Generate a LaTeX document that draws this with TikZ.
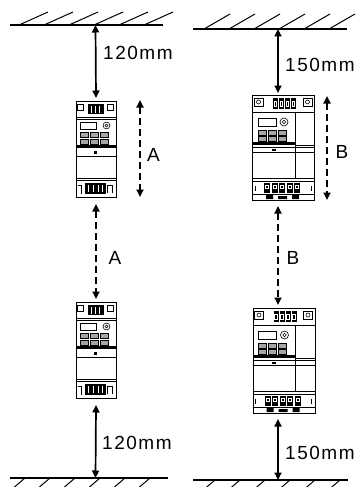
\documentclass[tikz,border=0pt]{standalone}
\usepackage{fontspec}
\setmainfont[LetterSpace=8]{Liberation Sans}
\usetikzlibrary{arrows.meta}
\tikzset{
 wall/.style={line width=1.5pt},
 hatch/.style={line width=1pt},
 dim/.style={line width=1.7pt, {Triangle[length=7.5pt,width=7pt]}-{Triangle[length=7.5pt,width=7pt]}},
 dimdash/.style={dim, dash pattern=on 7pt off 4pt},
 lab/.style={font=\fontsize{19}{19}\selectfont, inner sep=0pt},
 devbox/.style={draw, line width=1pt, inner sep=0pt, anchor=north west},
 fine/.style={line width=0.6pt},
 stripe/.style={white, line width=0.7pt},
}
\newcommand\smalldetail[1]{%
 \begin{scope}[shift={(#1.north west)}]
  \draw[fine] (0,16) -- (40,16) (0,18) -- (40,18);
  \draw[fine] (2,3) rectangle (8,9) (32,3) rectangle (38,9);
  \fill (12,3) rectangle (28,13);
  \draw[stripe] (16,5) -- (16,12) (20,5) -- (20,12) (24,5) -- (24,12);
  \draw[fine] (5,21) rectangle (21,28);
  \draw[fine] (31,24.5) circle (3.5) (31,24.5) circle (1.5);
  \foreach \cx in {5,15,25}{\foreach \ry in {31,38}{
    \draw[fine,fill=black!35] (\cx,\ry) rectangle +(8,5);}}
  \fill (0,44) rectangle (40,46.5);
  \fill (18.5,50) rectangle (21.5,52.5);
  \draw[fine] (0,55) -- (40,55);
  \draw[fine] (0,77) -- (40,77) (0,79) -- (40,79);
  \fill (9,82) rectangle (30,93);
  \draw[stripe] (13,84) -- (13,91) (18,84) -- (18,91) (23,84) -- (23,91) (27,84) -- (27,91);
  \draw[fine] (32,92) -- (32,84) -- (37,84) -- (37,92);
  \draw[fine] (2,84) -- (6,84) -- (6,93);
 \end{scope}}
\newcommand\bigdetail[1]{%
 \begin{scope}[shift={(#1.north west)}]
  \draw[fine] (0,17) -- (62,17);
  \draw[fine] (2,3) rectangle (11,11) (51,3) rectangle (60,11);
  \draw[fine] (6.5,7) circle (2) (55.5,7) circle (2);
  \foreach \i in {0,1,2,3}{\fill (21+\i*6,3) rectangle +(5,11);
    \draw[stripe] (22.2+\i*6,6) rectangle +(2.6,5);}
  \draw[fine] (43,17) -- (43,83);
  \draw[fine] (6,23) rectangle (24,31);
  \draw[fine] (32,27) circle (4) (32,27) circle (1.8);
  \foreach \cx in {6,16,26}{\foreach \ry in {35,41}{
    \draw[fine,fill=black!35] (\cx,\ry) rectangle +(8,5);}}
  \fill (0,47) rectangle (43,49.5);
  \draw[fine] (43,50) -- (62,50);
  \draw[fine] (0,52.5) -- (62,52.5);
  \fill (19.5,53.5) rectangle (23.5,56);
  \draw[fine] (0,57.5) -- (62,57.5);
  \draw[fine] (0,83) -- (62,83) (0,86) -- (62,86);
  \foreach \i in {0,1,2,3,4}{\fill (12+\i*7.5,88) rectangle +(6,10);
    \draw[stripe] (13.5+\i*7.5,90) rectangle +(3,3);}
  \draw[fine] (0,99) -- (62,99);
  \draw[fine] (3,91) -- (3,96) (59,91) -- (59,96);
  \fill (14,100) rectangle (21,104) (26,101) rectangle (35,104) (40,100) rectangle (47,104);
 \end{scope}}
\begin{document}
\begin{tikzpicture}[x=1pt,y=-1pt]
 \useasboundingbox (0,0) rectangle (357,487);
 % walls
 \coordinate (tlA) at (10,25); \coordinate (tlB) at (163,25);
 \coordinate (trA) at (193,29); \coordinate (trB) at (347,29);
 \coordinate (blA) at (10,478); \coordinate (blB) at (168,478);
 \coordinate (brA) at (193,480); \coordinate (brB) at (348,480);
 \draw[wall] (tlA) -- (tlB);
 \draw[wall] (trA) -- (trB);
 \draw[wall] (blA) -- (blB);
 \draw[wall] (brA) -- (brB);
 \foreach \x in {19,44,69,94,119,144}{\draw[hatch] (\x,25) -- (\x+29,12);}
 \foreach \x in {204,229,254,279,304,329}{\draw[hatch] (\x,29) -- (\x+26,14);}
 \foreach \x in {25,50,75,100,125,150}{\draw[hatch] (\x,478) -- (\x-14,490);}
 \foreach \x in {215,240,265,290,315,340}{\draw[hatch] (\x,480) -- (\x-14,492);}
 % devices
 \node[devbox, minimum width=40pt, minimum height=96pt] (d1) at (75.5,101) {};
 \node[devbox, minimum width=40pt, minimum height=96pt] (d2) at (75.5,302) {};
 \node[devbox, minimum width=62pt, minimum height=105pt] (d3) at (252,95) {};
 \node[devbox, minimum width=62pt, minimum height=105pt] (d4) at (252.5,308) {};
 \smalldetail{d1}
 \smalldetail{d2}
 \bigdetail{d3}
 \bigdetail{d4}
 % left column dimensions
 \coordinate (cl1) at (95.5,25);
 \coordinate (cl2) at (95.5,478);
 \draw[dim] (cl1) -- ([yshift=3pt]d1.north);
 \draw[dimdash] ([yshift=-6pt]d1.south) -- ([yshift=3pt]d2.north);
 \draw[dim] ([yshift=-6pt]d2.south) -- (cl2);
 \coordinate (sa1) at (140,100); \coordinate (sa2) at (140,197);
 \draw[dimdash] (sa1) -- (sa2);
 % right column dimensions
 \coordinate (cr1) at (278,29);
 \coordinate (cr2) at (278,480);
 \draw[dim] (cr1) -- ([yshift=2pt]d3.north -| cr1);
 \draw[dimdash] ([yshift=-5pt]d3.south -| cr1) -- ([yshift=3pt]d4.north -| cr1);
 \draw[dim] ([yshift=-5pt]d4.south -| cr1) -- (cr2);
 \coordinate (sb1) at (327,96); \coordinate (sb2) at (327,200);
 \draw[dimdash] (sb1) -- (sb2);
 % labels
 \node[lab, anchor=west] (l1) at (103,53) {120mm};
 \node[lab, anchor=west] (l2) at (285,65) {150mm};
 \node[lab, anchor=west] (l3) at (102,443) {120mm};
 \node[lab, anchor=west] (l4) at (285,453) {150mm};
 \node[lab] (la1) at (153.5,155) {A};
 \node[lab] (la2) at (115,258) {A};
 \node[lab] (lb1) at (342,152) {B};
 \node[lab] (lb2) at (293,258) {B};
\end{tikzpicture}
\end{document}
